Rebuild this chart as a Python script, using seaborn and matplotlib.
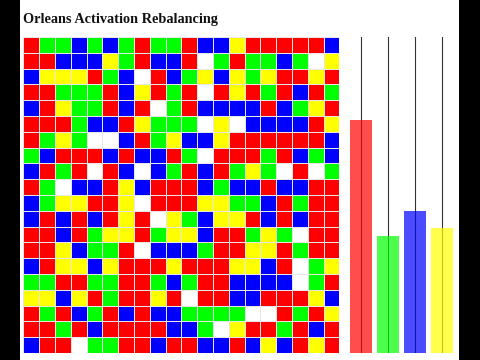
import numpy as np
import pandas as pd
import matplotlib
matplotlib.use("Agg")
import matplotlib.pyplot as plt
from matplotlib.colors import ListedColormap
from matplotlib.patches import Rectangle
import seaborn as sns

# activation grid, one string per row (R red, G green, B blue, Y yellow, W empty)
grid_rows = [
    "RGGBGBGRGGRBBYRRRRRB",
    "RRBBBYGRBBRWGRGGBGWY",
    "BYYYRGBWRBGYBYGYRRYR",
    "RRGGGRBYRGRWRYRGRBRG",
    "BRYGGRBRWGRBBBBRBGYR",
    "RRRGBBRYGGGWYWBBBBRY",
    "RGYGWWBRGYBBYRRRRRRB",
    "GBRRRBRBBRGWRRRGRBGB",
    "BRGRWRBWBGRBRGYGWRWG",
    "RGWBBRYBRRRBGBBRBBRR",
    "BGYYRRYWRRRYYGGBRGRR",
    "BRBRBRYRWYGBYYRBRBRR",
    "RRBRGYYRGYYBRRGYGWRR",
    "RRYBGGRWBBBGRRYYRGRR",
    "BRYYBYRRRYRRRYYBRWGY",
    "GGRRGGRRGBGRRBBBBWGR",
    "YYBYRGRRYRWRRBBRRRYB",
    "RGRBGRBRBBGGGGWWRGRY",
    "RRGRBRRRRBBGWYRRGRBR",
    "BRRWGGRRBRRBBRBYBRYR",
]
codes = {"W": 0, "R": 1, "G": 2, "B": 3, "Y": 4}
cell_colors = ["#ffffff", "#ff0000", "#00ff00", "#0000ff", "#ffff00"]

# rebalancing bars
bar_labels = ["red", "green", "blue", "yellow"]
bar_values = [151, 76, 92, 81]
bar_colors = ["#ff0000", "#00ff00", "#0000ff", "#ffff00"]

grid = pd.DataFrame([[codes[c] for c in row] for row in grid_rows])
df_bars = pd.DataFrame({"color": bar_labels, "count": bar_values})

fig = plt.figure(figsize=(4.8, 3.6), dpi=100, facecolor="white")
# black side borders
for x0, w in [(0, 20), (459, 21)]:
    fig.patches.append(Rectangle((x0 / 480, 0), w / 480, 1, transform=fig.transFigure,
                                 facecolor="black", edgecolor="none", zorder=-5))

fig.text(23 / 480, 1 - 19 / 360, "Orleans Activation Rebalancing", family="Liberation Serif",
         weight="bold", fontsize=10.3, va="center", ha="left", color="#111111")

ax = fig.add_axes([23.3 / 480, 7 / 360, 316 / 480, 316 / 360])
sns.heatmap(grid, ax=ax, cmap=ListedColormap(cell_colors), vmin=-0.5, vmax=4.5,
            cbar=False, linewidths=0.6, linecolor="#e6e6e6", square=False,
            xticklabels=False, yticklabels=False)

ax2 = fig.add_axes([347.5 / 480, 7 / 360, 108 / 480, 316 / 360])
sns.barplot(data=df_bars, x="color", y="count", hue="color", palette=bar_colors,
            saturation=1, alpha=0.7, width=0.82, legend=False, ax=ax2)
ax2.set_ylim(0, 205)
ax2.set_axisbelow(True)
ax2.grid(axis="x", color="#333333", linewidth=0.8)
ax2.tick_params(length=0, labelbottom=False, labelleft=False)
ax2.set_xlabel("")
ax2.set_ylabel("")
for s in ax2.spines.values():
    s.set_visible(False)
ax2.set_facecolor("none")

fig.savefig("out.png", dpi=100, facecolor=fig.get_facecolor())
